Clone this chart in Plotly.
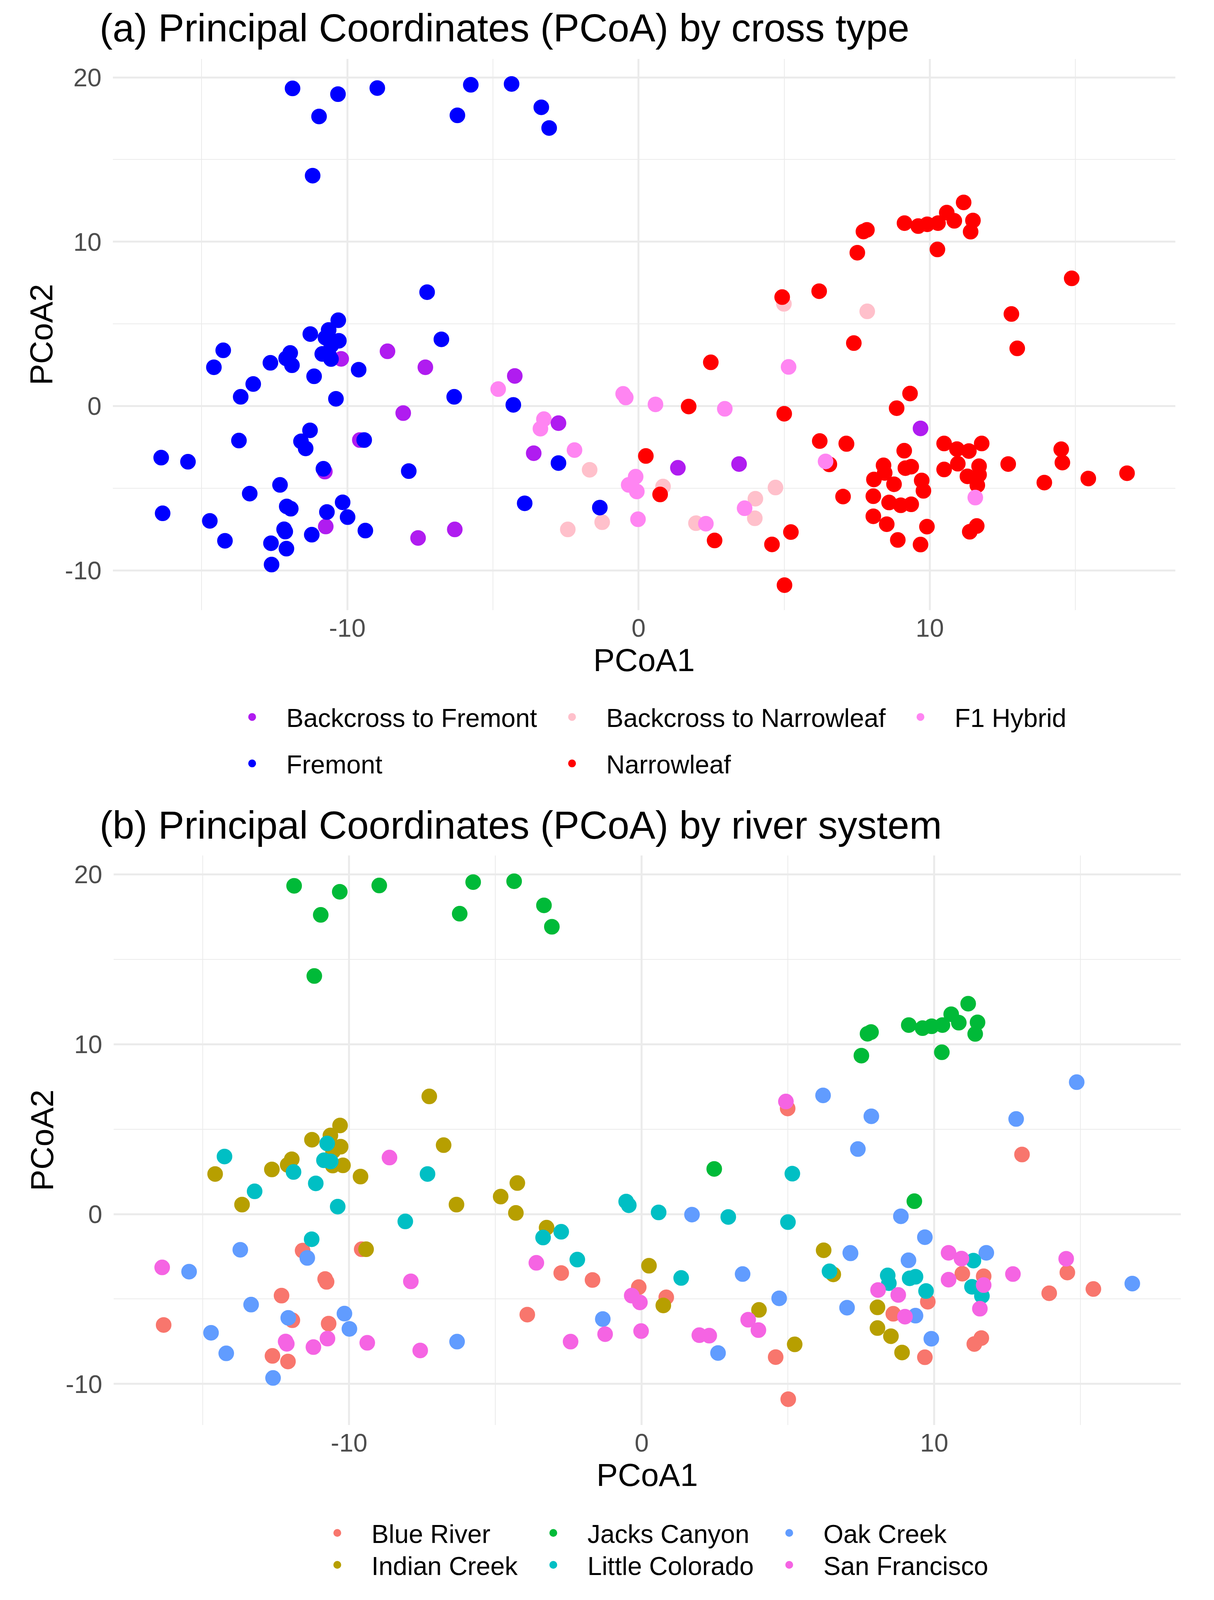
import plotly.graph_objects as go

# ---------------- data ----------------
pcoa1 = [
    -11.88, -10.32, -10.97, -8.97, -11.19, -5.76, -4.36, -6.22, -3.34, -3.07,
    -7.26, -10.31, -10.64, -11.27, -10.75, -10.29, -10.55, -10.86, -10.63, -10.56,
    -10.21, -11.96, -12.10, -11.90, -12.64, -14.26, -14.58, -13.23, -13.66, -11.14,
    -9.61, -10.39, -8.62, -6.77, -7.32, -6.33, -8.08, -4.25, -4.82, -4.30,
    -11.28, -11.59, -11.43, -13.72, -9.57, -9.42, -16.39, -15.47, -10.82, -10.77,
    -7.89, -12.31, -13.35, -16.34, -12.08, -11.94, -10.16, -10.70, -9.99, -10.74,
    -14.72, -12.17, -12.13, -11.22, -9.38, -14.20, -12.62, -12.09, -12.60, -7.57,
    -6.31,
    -0.53, -0.44, 0.58, 1.72, 2.96, 2.48, 5.00, 5.15, 7.39, 4.93,
    4.99, -3.25, -3.37, -2.75, -3.60, -2.75, -2.20, -1.68, -3.91, -1.33,
    -2.43, -1.25, -0.10, -0.34, -0.06, 0.25, 1.35, 0.84, 0.74, -0.02,
    1.97, 2.31, 2.61, 3.45, 4.70, 4.01, 3.64, 3.99, 5.23, 4.58,
    5.01, 6.22, 7.14, 6.42, 6.55, 7.02,
    11.16, 10.58, 10.84, 11.48, 11.40, 9.13, 9.60, 9.91, 10.28, 7.72,
    7.84, 7.51, 10.26, 14.87, 6.20, 7.85, 12.80, 13.00,
    9.32, 8.86, 9.68, 7.13, 9.12, 10.49, 10.93, 11.34, 11.78, 8.41,
    8.45, 9.16, 9.36, 10.49, 10.96, 11.69, 11.29, 11.69, 11.63, 12.69,
    14.51, 14.55, 8.08, 8.77, 9.72, 9.78, 13.93, 15.44, 16.77, 8.06,
    8.60, 9.00, 9.36, 11.56, 8.06, 8.52, 9.90, 11.61, 11.37, 8.90,
    9.68,
]
pcoa2 = [
    19.33, 18.98, 17.62, 19.35, 14.02, 19.55, 19.60, 17.69, 18.18, 16.92,
    6.93, 5.22, 4.63, 4.38, 4.16, 3.97, 3.70, 3.17, 3.10, 2.86,
    2.87, 3.23, 2.90, 2.48, 2.63, 3.39, 2.36, 1.34, 0.56, 1.81,
    2.21, 0.44, 3.33, 4.06, 2.36, 0.56, -0.43, 1.83, 1.03, 0.07,
    -1.48, -2.15, -2.58, -2.10, -2.07, -2.07, -3.14, -3.39, -3.82, -3.99,
    -3.96, -4.80, -5.33, -6.53, -6.11, -6.25, -5.86, -6.45, -6.76, -7.33,
    -6.99, -7.50, -7.64, -7.83, -7.58, -8.20, -8.35, -8.68, -9.65, -8.03,
    -7.51,
    0.74, 0.52, 0.10, -0.03, -0.17, 2.66, -0.47, 2.38, 3.83, 6.63,
    6.22, -0.80, -1.38, -1.04, -2.87, -3.47, -2.68, -3.88, -5.92, -6.18,
    -7.51, -7.07, -4.30, -4.80, -5.20, -3.04, -3.76, -4.90, -5.38, -6.89,
    -7.13, -7.16, -8.18, -3.53, -4.96, -5.64, -6.22, -6.83, -7.67, -8.42,
    -10.90, -2.13, -2.31, -3.37, -3.55, -5.51,
    12.39, 11.77, 11.27, 11.29, 10.61, 11.13, 10.95, 11.06, 11.13, 10.62,
    10.72, 9.33, 9.53, 7.77, 6.99, 5.76, 5.60, 3.51,
    0.76, -0.13, -1.36, -2.28, -2.72, -2.28, -2.62, -2.74, -2.28, -3.61,
    -4.07, -3.78, -3.69, -3.86, -3.51, -3.66, -4.28, -4.18, -4.82, -3.53,
    -2.63, -3.44, -4.47, -4.76, -4.53, -5.16, -4.66, -4.41, -4.09, -5.49,
    -5.87, -6.04, -5.98, -5.57, -6.71, -7.19, -7.34, -7.30, -7.65, -8.15,
    -8.43,
]
cross_type = (
    ["Fremont"] * 10
    + ["Fremont"] * 9 + ["Fremont", "Backcross to Fremont"]
    + ["Fremont"] * 11
    + ["Backcross to Fremont", "Fremont", "Backcross to Fremont", "Fremont",
       "Backcross to Fremont", "Backcross to Fremont", "F1 Hybrid", "Fremont"]
    + ["Fremont", "Fremont", "Fremont", "Fremont", "Backcross to Fremont", "Fremont",
       "Fremont", "Fremont", "Fremont", "Backcross to Fremont"]
    + ["Fremont"] * 9 + ["Backcross to Fremont"]
    + ["Fremont"] * 9 + ["Backcross to Fremont"]
    + ["Backcross to Fremont"]
    + ["F1 Hybrid", "F1 Hybrid", "F1 Hybrid", "Narrowleaf", "F1 Hybrid", "Narrowleaf",
       "Narrowleaf", "F1 Hybrid", "Narrowleaf", "Narrowleaf"]
    + ["Backcross to Narrowleaf", "F1 Hybrid", "F1 Hybrid", "Backcross to Fremont",
       "Backcross to Fremont", "Fremont", "F1 Hybrid", "Backcross to Narrowleaf",
       "Fremont", "Fremont"]
    + ["Backcross to Narrowleaf", "Backcross to Narrowleaf", "F1 Hybrid", "F1 Hybrid",
       "F1 Hybrid", "Narrowleaf", "Backcross to Fremont", "Backcross to Narrowleaf",
       "Narrowleaf", "F1 Hybrid"]
    + ["Backcross to Narrowleaf", "F1 Hybrid", "Narrowleaf", "Backcross to Fremont",
       "Backcross to Narrowleaf", "Backcross to Narrowleaf", "F1 Hybrid",
       "Backcross to Narrowleaf", "Narrowleaf", "Narrowleaf"]
    + ["Narrowleaf", "Narrowleaf", "Narrowleaf", "F1 Hybrid", "Narrowleaf", "Narrowleaf"]
    + ["Narrowleaf"] * 13
    + ["Narrowleaf", "Narrowleaf", "Backcross to Narrowleaf", "Narrowleaf", "Narrowleaf"]
    + ["Narrowleaf", "Narrowleaf", "Backcross to Fremont"] + ["Narrowleaf"] * 30
    + ["F1 Hybrid"] + ["Narrowleaf"] * 7
)
river = (
    ["Jacks Canyon"] * 10
    + ["Indian Creek", "Indian Creek", "Indian Creek", "Indian Creek", "Little Colorado",
       "Indian Creek", "Indian Creek", "Little Colorado", "Little Colorado", "Indian Creek"]
    + ["Indian Creek", "Indian Creek", "Indian Creek", "Little Colorado", "Indian Creek",
       "Little Colorado", "Indian Creek", "Little Colorado", "Indian Creek", "Little Colorado"]
    + ["Indian Creek", "Little Colorado", "San Francisco", "Indian Creek", "Little Colorado",
       "Indian Creek", "Little Colorado", "Indian Creek", "Indian Creek", "Indian Creek"]
    + ["Little Colorado", "Blue River", "Oak Creek", "Oak Creek", "Blue River", "Indian Creek",
       "San Francisco", "Oak Creek", "Blue River", "Blue River"]
    + ["San Francisco", "Blue River", "Oak Creek", "Blue River", "Oak Creek", "Blue River",
       "Oak Creek", "Blue River", "Oak Creek", "San Francisco"]
    + ["Oak Creek", "San Francisco", "San Francisco", "San Francisco", "San Francisco",
       "Oak Creek", "Blue River", "Blue River", "Oak Creek", "San Francisco"]
    + ["Oak Creek"]
    + ["Little Colorado", "Little Colorado", "Little Colorado", "Oak Creek", "Little Colorado",
       "Jacks Canyon", "Little Colorado", "Little Colorado", "Oak Creek", "San Francisco"]
    + ["Blue River", "Indian Creek", "Little Colorado", "Little Colorado", "San Francisco",
       "Blue River", "Little Colorado", "Blue River", "Blue River", "Oak Creek"]
    + ["San Francisco", "San Francisco", "Blue River", "San Francisco", "San Francisco",
       "Indian Creek", "Little Colorado", "Blue River", "Indian Creek", "San Francisco"]
    + ["San Francisco", "San Francisco", "Oak Creek", "Oak Creek", "Oak Creek", "Indian Creek",
       "San Francisco", "San Francisco", "Indian Creek", "Blue River"]
    + ["Blue River", "Indian Creek", "Oak Creek", "Little Colorado", "Indian Creek", "Oak Creek"]
    + ["Jacks Canyon"] * 13
    + ["Oak Creek", "Oak Creek", "Oak Creek", "Oak Creek", "Blue River"]
    + ["Jacks Canyon", "Oak Creek", "Oak Creek", "Oak Creek", "Oak Creek", "San Francisco",
       "San Francisco", "Little Colorado", "Oak Creek", "Little Colorado"]
    + ["Little Colorado", "Little Colorado", "Little Colorado", "San Francisco", "Blue River",
       "Blue River", "Little Colorado", "San Francisco", "Little Colorado", "San Francisco"]
    + ["San Francisco", "Blue River", "San Francisco", "San Francisco", "Little Colorado",
       "Blue River", "Blue River", "Blue River", "Oak Creek", "Indian Creek"]
    + ["Blue River", "San Francisco", "Oak Creek", "San Francisco", "Indian Creek",
       "Indian Creek", "Oak Creek", "Blue River", "Blue River", "Indian Creek"]
    + ["Blue River"]
)

cross_levels = ["Backcross to Fremont", "Backcross to Narrowleaf", "F1 Hybrid", "Fremont", "Narrowleaf"]
cross_colors = ["#B01CF0", "#FFC0CB", "#FF85F2", "#0000FF", "#FF0000"]
river_levels = ["Blue River", "Indian Creek", "Jacks Canyon", "Little Colorado", "Oak Creek", "San Francisco"]
river_colors = ["#F8766D", "#B79F00", "#00BA38", "#00BFC4", "#619CFF", "#F564E3"]

x_ticks = [-10, 0, 10]
x_tick_labels = ["-10", "0", "10"]
x_minor = [-15, -5, 5, 15]
y_ticks = [-10, 0, 10, 20]
y_tick_labels = ["-10", "0", "10", "20"]
y_minor = [-5, 5, 15]

titles = ["(a) Principal Coordinates (PCoA) by cross type",
          "(b) Principal Coordinates (PCoA) by river system"]

# ---------------- layout geometry ----------------
# positions are measured on a 3108 x 4510 reference; the captured page is
# about 4096 px tall, so vertical positions are scaled to fit it.
W = 3108
H_REF = 4510
H = 4096
S = H / H_REF
ML, MR, MT, MB = 200, 40, 10, 10
PW, PH = W - ML - MR, H - MT - MB
FONT = "Liberation Sans, Arial, Helvetica, sans-serif"


def fx(px):
    return (px - ML) / PW


def fy(py_ref):
    return (H - MB - py_ref * S) / PH


assert len(pcoa1) == len(pcoa2) == len(cross_type) == len(river)

xmin, xmax = min(pcoa1), max(pcoa1)
ymin, ymax = min(pcoa2), max(pcoa2)
xr = [xmin - 0.05 * (xmax - xmin), xmax + 0.05 * (xmax - xmin)]
yr = [ymin - 0.05 * (ymax - ymin), ymax + 0.05 * (ymax - ymin)]

fig = go.Figure()

ITEMW = 165
# legend item: (text start x, row centre y) on the reference
leg_a = {
    "Backcross to Fremont": (737, 2027),
    "Backcross to Narrowleaf": (1556, 2027),
    "F1 Hybrid": (2448, 2027),
    "Fremont": (737, 2158),
    "Narrowleaf": (1556, 2158),
}
leg_b = {
    "Blue River": (955, 4327),
    "Jacks Canyon": (1508, 4327),
    "Oak Creek": (2112, 4327),
    "Indian Creek": (955, 4417),
    "Little Colorado": (1508, 4417),
    "San Francisco": (2112, 4417),
}

legends = {}
leg_counter = [0]


def new_legend(pos):
    leg_counter[0] += 1
    key = "legend" if leg_counter[0] == 1 else f"legend{leg_counter[0]}"
    tx, ty = pos
    legends[key] = dict(
        x=fx(tx - ITEMW - 14), y=fy(ty - 6), xanchor="left", yanchor="middle",
        orientation="h", bgcolor="rgba(0,0,0,0)", borderwidth=0,
        itemwidth=ITEMW, font=dict(family=FONT, size=66, color="black"),
        visible=True,
    )
    return key


draw_order_a = ["Backcross to Narrowleaf", "Narrowleaf", "F1 Hybrid", "Backcross to Fremont", "Fremont"]
for lev in draw_order_a:
    col = cross_colors[cross_levels.index(lev)]
    xs = [x for x, c in zip(pcoa1, cross_type) if c == lev]
    ys = [y for y, c in zip(pcoa2, cross_type) if c == lev]
    fig.add_trace(go.Scatter(
        x=xs, y=ys, mode="markers", name=lev, showlegend=True,
        marker=dict(size=36, color=col, line=dict(width=4, color=col)),
        xaxis="x", yaxis="y", legend=new_legend(leg_a[lev]),
    ))

draw_order_b = ["Blue River", "Indian Creek", "Oak Creek", "Little Colorado", "San Francisco", "Jacks Canyon"]
for lev in draw_order_b:
    col = river_colors[river_levels.index(lev)]
    xs = [x for x, r in zip(pcoa1, river) if r == lev]
    ys = [y for y, r in zip(pcoa2, river) if r == lev]
    fig.add_trace(go.Scatter(
        x=xs, y=ys, mode="markers", name=lev, showlegend=True,
        marker=dict(size=36, color=col, line=dict(width=4, color=col)),
        xaxis="x2", yaxis="y2", legend=new_legend(leg_b[lev]),
    ))

GRID = "#EBEBEB"


def xaxis(dom, anchor):
    return dict(
        domain=dom, anchor=anchor, range=xr, showline=False, zeroline=False,
        tickvals=x_ticks, ticktext=x_tick_labels, ticks="",
        showgrid=True, gridcolor=GRID, gridwidth=4.5,
        minor=dict(tickvals=x_minor, showgrid=True, gridcolor=GRID, gridwidth=2.2, ticks=""),
        tickfont=dict(family=FONT, size=65, color="#4D4D4D"),
        ticklabelstandoff=2,
        title=dict(text="PCoA1", font=dict(family=FONT, size=82, color="black"), standoff=0),
        automargin=False,
    )


def yaxis(dom, anchor):
    return dict(
        domain=dom, anchor=anchor, range=yr, showline=False, zeroline=False,
        tickvals=y_ticks, ticktext=y_tick_labels, ticks="",
        showgrid=True, gridcolor=GRID, gridwidth=4.5,
        minor=dict(tickvals=y_minor, showgrid=True, gridcolor=GRID, gridwidth=2.2, ticks=""),
        tickfont=dict(family=FONT, size=65, color="#4D4D4D"),
        ticklabelstandoff=28,
        title=dict(text="PCoA2", font=dict(family=FONT, size=82, color="black"), standoff=4),
        automargin=False,
    )


layout = dict(
    width=W, height=H,
    margin=dict(l=ML, r=MR, t=MT, b=MB),
    paper_bgcolor="white", plot_bgcolor="white",
    font=dict(family=FONT),
    showlegend=True,
    xaxis=xaxis([fx(289), fx(3009)], "y"),
    yaxis=yaxis([fy(1720), fy(166)], "x"),
    xaxis2=xaxis([fx(291), fx(3023)], "y2"),
    yaxis2=yaxis([fy(4017), fy(2411)], "x2"),
    annotations=[
        dict(text=titles[0], x=fx(253), y=fy(78), xref="paper", yref="paper",
             xanchor="left", yanchor="middle", showarrow=False,
             font=dict(family=FONT, size=100, color="black")),
        dict(text=titles[1], x=fx(253), y=fy(2326), xref="paper", yref="paper",
             xanchor="left", yanchor="middle", showarrow=False,
             font=dict(family=FONT, size=100, color="black")),
    ],
)
layout.update(legends)
fig.update_layout(**layout)

fig.write_html("out.html", config={"displayModeBar": False},
               post_script="document.body.style.margin='0px';")
